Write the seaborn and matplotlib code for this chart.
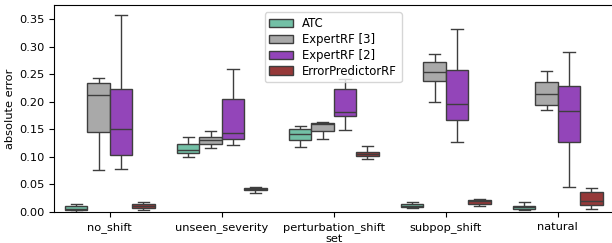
import numpy as np
import pandas as pd
import matplotlib
matplotlib.use("Agg")
import matplotlib.pyplot as plt
import seaborn as sns

# shift sets on the x axis, methods as hue
shift_sets = ["no_shift", "unseen_severity", "perturbation_shift", "subpop_shift", "natural"]
methods = ["ATC", "ExpertRF [3]", "ExpertRF [2]", "ErrorPredictorRF"]

# five-number summaries (min, q1, median, q3, max), one list per set
atc = [
    [0.000, 0.003, 0.006, 0.010, 0.0145],
    [0.100, 0.107, 0.112, 0.123, 0.136],
    [0.118, 0.131, 0.141, 0.150, 0.156],
    [0.007, 0.0085, 0.011, 0.014, 0.0187],
    [0.003, 0.005, 0.008, 0.011, 0.0175],
]
expert_rf3 = [
    [0.076, 0.145, 0.213, 0.234, 0.244],
    [0.116, 0.123, 0.130, 0.136, 0.146],
    [0.133, 0.147, 0.159, 0.162, 0.163],
    [0.199, 0.237, 0.254, 0.272, 0.2875],
    [0.185, 0.1945, 0.2145, 0.2355, 0.255],
]
expert_rf2 = [
    [0.078, 0.103, 0.150, 0.223, 0.357],
    [0.121, 0.132, 0.1425, 0.205, 0.259],
    [0.149, 0.1745, 0.182, 0.224, 0.242],
    [0.127, 0.167, 0.195, 0.257, 0.3315],
    [0.045, 0.127, 0.184, 0.228, 0.291],
]
error_pred_rf = [
    [0.004, 0.0072, 0.0114, 0.015, 0.0187],
    [0.035, 0.039, 0.042, 0.044, 0.046],
    [0.096, 0.102, 0.106, 0.109, 0.119],
    [0.011, 0.0145, 0.0193, 0.0217, 0.024],
    [0.005, 0.012, 0.019, 0.036, 0.044],
]

rows = []
for method, summaries in zip(methods, [atc, expert_rf3, expert_rf2, error_pred_rf]):
    for s, vals in zip(shift_sets, summaries):
        for v in vals:
            rows.append({"set": s, "method": method, "absolute error": v})
df = pd.DataFrame(rows)

palette = ["mediumaquamarine", "darkgray", "darkorchid", "brown"]

fig, ax = plt.subplots(figsize=(6.12, 2.43), dpi=100)
sns.boxplot(data=df, x="set", y="absolute error", hue="method",
            hue_order=methods, order=shift_sets, palette=palette,
            saturation=0.75, whis=1.5, ax=ax)
ax.set_ylim(0, 0.375)
ax.set_yticks(np.arange(0, 0.36, 0.05))
ax.legend(loc="upper left", bbox_to_anchor=(0.366, 0.995), fontsize=8.4,
          handlelength=2, borderpad=0.4, labelspacing=0.25)
ax.tick_params(labelsize=8.2)
ax.set_xlabel("set", fontsize=8.2, labelpad=1)
ax.set_ylabel("absolute error", fontsize=8.2, labelpad=3)
fig.subplots_adjust(left=0.088, right=1.003, top=0.978, bottom=0.128)
fig.savefig("out.png", dpi=100)
